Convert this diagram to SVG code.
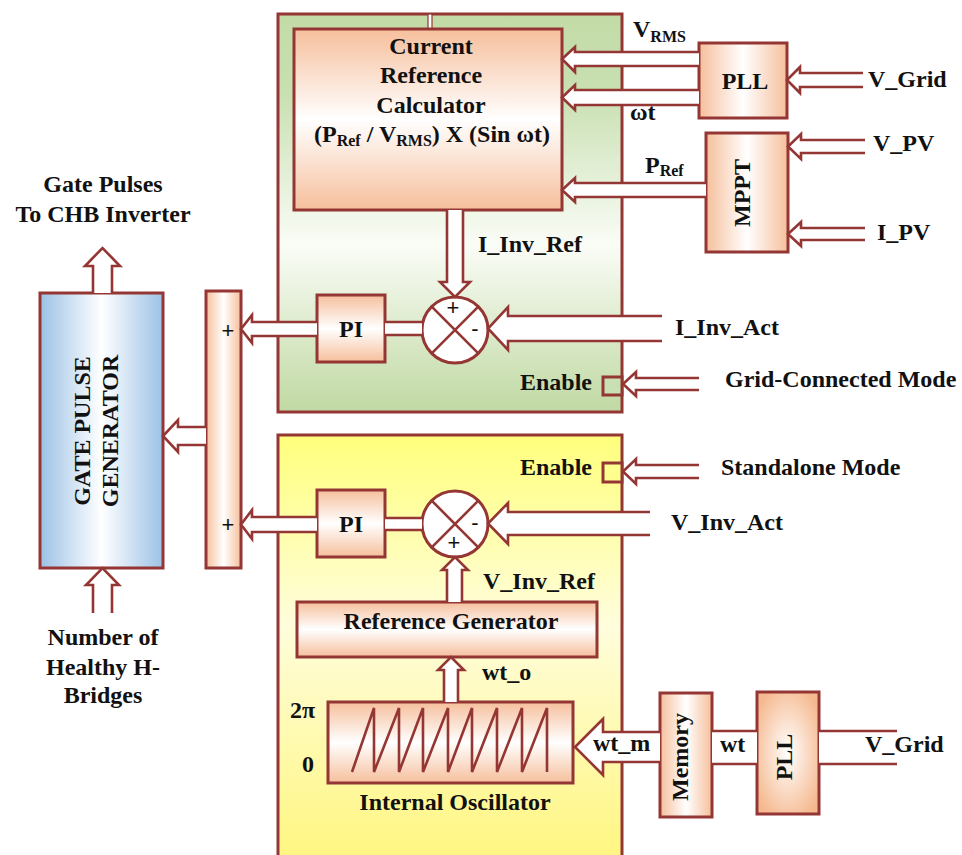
<svg xmlns="http://www.w3.org/2000/svg" width="962" height="855" viewBox="0 0 962 855">
<defs>
<linearGradient id="gGreen" x1="0" y1="0" x2="0" y2="1">
<stop offset="0" stop-color="#c2dba6"/><stop offset="0.2" stop-color="#c9e0b2"/><stop offset="0.58" stop-color="#fafcf6"/><stop offset="1" stop-color="#c0d9a3"/>
</linearGradient>
<linearGradient id="gYellow" x1="0" y1="0" x2="0" y2="1">
<stop offset="0" stop-color="#ffff7c"/><stop offset="0.45" stop-color="#fffddc"/><stop offset="1" stop-color="#fff680"/>
</linearGradient>
<linearGradient id="gPeachV" x1="0" y1="0" x2="0" y2="1">
<stop offset="0" stop-color="#f6bf9c"/><stop offset="0.5" stop-color="#ffffff"/><stop offset="1" stop-color="#f6bf9c"/>
</linearGradient>
<linearGradient id="gPeachH" x1="0" y1="0" x2="1" y2="0">
<stop offset="0" stop-color="#f6bf9c"/><stop offset="0.5" stop-color="#ffffff"/><stop offset="1" stop-color="#f6bf9c"/>
</linearGradient>
<linearGradient id="gBlue" x1="0" y1="0" x2="1" y2="0">
<stop offset="0" stop-color="#9cc2e6"/><stop offset="0.5" stop-color="#ffffff"/><stop offset="1" stop-color="#9cc2e6"/>
</linearGradient>
<radialGradient id="gPeachR" cx="0.5" cy="0.5" r="0.6">
<stop offset="0" stop-color="#ffffff"/><stop offset="1" stop-color="#f5b98f"/>
</radialGradient>
<style>
.box{stroke:#943634;stroke-width:3}
.ar{fill:#ffffff;stroke:#943634;stroke-width:2.6;stroke-linejoin:miter}
.ln{fill:none;stroke:#943634;stroke-width:2.6}
.t{font-family:"Liberation Serif","Times New Roman",serif;font-weight:bold;font-size:24px;fill:#111111}
.s{font-size:16px}
.sg{font-family:"Liberation Sans",Arial,sans-serif;font-size:22px;fill:#111111}
</style>
</defs>
<rect width="962" height="855" fill="#ffffff"/>

<g id="grid-connected-panel">
<rect class="box" x="278" y="14" width="344" height="398" fill="url(#gGreen)"/>
<rect x="428" y="14" width="4" height="15" fill="#ffffff" stroke="#943634" stroke-width="1.2"/>
<rect class="box" x="603" y="377" width="19" height="18" fill="#c9e0b4"/>
<text class="t" x="592" y="390" text-anchor="end">Enable</text>
</g>

<g id="standalone-panel">
<rect class="box" x="278" y="435" width="344" height="425" fill="url(#gYellow)"/>
<rect class="box" x="603" y="463" width="19" height="19" fill="#ffff90"/>
<text class="t" x="592" y="475" text-anchor="end">Enable</text>
</g>

<g id="current-reference-calculator">
<rect class="box" x="294" y="29" width="268" height="181" fill="url(#gPeachV)"/>
<text class="t" x="431" y="54" text-anchor="middle">Current</text>
<text class="t" x="431" y="83" text-anchor="middle">Reference</text>
<text class="t" x="431" y="113" text-anchor="middle">Calculator</text>
<text class="t" x="432" y="142" text-anchor="middle">(P<tspan class="s" dy="4">Ref</tspan><tspan dy="-4"> / V</tspan><tspan class="s" dy="4">RMS</tspan><tspan dy="-4">) X (Sin ωt)</tspan></text>
</g>

<g id="pll-top">
<rect class="box" x="699" y="43" width="88" height="75" fill="url(#gPeachH)"/>
<text class="t" x="745" y="89" text-anchor="middle">PLL</text>
</g>

<g id="mppt">
<rect class="box" x="706" y="133" width="82" height="119" fill="url(#gPeachH)"/>
<text class="t" transform="translate(750,193) rotate(-90)" text-anchor="middle">MPPT</text>
</g>

<g id="pi-top">
<rect class="box" x="317" y="295" width="68" height="67" fill="url(#gPeachV)"/>
<text class="t" x="351" y="337" text-anchor="middle">PI</text>
</g>

<g id="sum-top">
<circle class="box" cx="455" cy="330" r="33" fill="#ffffff"/>
<path class="ln" d="M431.7 306.7 L478.3 353.3 M478.3 306.7 L431.7 353.3"/>
<text class="sg" x="453" y="315" text-anchor="middle">+</text>
<text class="sg" x="475" y="336" text-anchor="middle">-</text>
</g>

<g id="summer-bar">
<rect class="box" x="206" y="291" width="35" height="277" fill="url(#gPeachH)"/>
<text class="sg" x="228" y="338" text-anchor="middle">+</text>
<text class="sg" x="228" y="532" text-anchor="middle">+</text>
</g>

<g id="gate-pulse-generator">
<rect class="box" x="40" y="293" width="123" height="275" fill="url(#gBlue)"/>
<text class="t" transform="translate(90,431) rotate(-90)" text-anchor="middle" font-size="25">GATE PULSE</text>
<text class="t" transform="translate(118,431) rotate(-90)" text-anchor="middle" font-size="25">GENERATOR</text>
</g>

<g id="pi-bottom">
<rect class="box" x="317" y="490" width="68" height="67" fill="url(#gPeachV)"/>
<text class="t" x="351" y="532" text-anchor="middle">PI</text>
</g>

<g id="sum-bottom">
<circle class="box" cx="455" cy="524" r="33" fill="#ffffff"/>
<path class="ln" d="M431.7 500.7 L478.3 547.3 M478.3 500.7 L431.7 547.3"/>
<text class="sg" x="475" y="530" text-anchor="middle">-</text>
<text class="sg" x="454" y="550" text-anchor="middle">+</text>
</g>

<g id="reference-generator">
<rect class="box" x="297" y="602" width="300" height="55" fill="url(#gPeachV)"/>
<text class="t" x="451" y="629" text-anchor="middle">Reference Generator</text>
</g>

<g id="internal-oscillator">
<rect class="box" x="328" y="702" width="245" height="81" fill="url(#gPeachV)"/>
<path class="ln" d="M352 772 L374 708 L374 772 L399 708 L399 772 L423 708 L423 772 L448 708 L448 772 L472 708 L472 772 L497 708 L497 772 L522 708 L522 772 L547 708 L547 772"/>
<text class="t" x="290" y="718">2π</text>
<text class="t" x="302" y="772">0</text>
<text class="t" x="455" y="810" text-anchor="middle">Internal Oscillator</text>
</g>

<g id="memory">
<rect class="box" x="660" y="693" width="52" height="124" fill="url(#gPeachH)"/>
<text class="t" transform="translate(688,757) rotate(-90)" text-anchor="middle">Memory</text>
</g>

<g id="pll-bottom">
<rect class="box" x="757" y="692" width="62" height="122" fill="url(#gPeachR)"/>
<text class="t" transform="translate(792,757) rotate(-90)" text-anchor="middle">PLL</text>
</g>

<g id="connectors">
<path class="ar" d="M699 52 H575 V47 L562 59 L575 72 V66 H699"/>
<path class="ar" d="M699 90 H575 V85 L562 97.5 L575 110 V105 H699"/>
<path class="ar" d="M706 183 H575 V178 L562 190 L575 202 V197 H706"/>
<path class="ar" d="M863 73 H800 V67 L787 80 L800 93 V87 H863"/>
<path class="ar" d="M865 140 H801 V134 L788 146.5 L801 159 V153 H865"/>
<path class="ar" d="M865 228 H801 V222 L788 234 L801 246 V240 H865"/>
<path class="ar" d="M447 210 V282 H440 L455 297 L470 282 H463 V210"/>
<path class="ar" d="M662 316 H508 V307 L488 328.5 L508 350 V341 H662"/>
<rect x="385" y="322" width="37" height="13" fill="#ffffff"/>
<path class="ln" d="M385 322 H423 M385 335 H423"/>
<path class="ar" d="M317 322 H252 V315 L241 329 L252 343 V336 H317"/>
<path class="ar" d="M206 427 H178 V420 L163 436 L178 452 V445 H206"/>
<path class="ar" d="M93 293 V266 H85 L102.5 248 L120 266 H112 V293"/>
<path class="ar" d="M93 613 V585 H86 L102.5 568 L119 585 H112 V613"/>
<path class="ar" d="M699 378 H636 V372 L623 384 L636 396 V390 H699"/>
<path class="ar" d="M699 465 H636 V459 L623 471.5 L636 484 V478 H699"/>
<path class="ar" d="M650 512 H508 V503 L488 523.5 L508 544 V535 H650"/>
<rect x="385" y="518" width="37" height="12" fill="#ffffff"/>
<path class="ln" d="M385 518 H423 M385 530 H423"/>
<path class="ar" d="M317 517 H252 V510 L241 524.5 L252 539 V532 H317"/>
<path class="ar" d="M447 602 V570 H442 L455 557 L468 570 H462 V602"/>
<path class="ar" d="M444 702 V670 H438 L451 657 L464 670 H458 V702"/>
<path class="ar" d="M660 732 H603 V719 L575 747 L603 775 V762 H660"/>
<rect x="712" y="731" width="45" height="33" fill="#ffffff"/>
<path class="ln" d="M712 731 H757 M712 764 H757"/>
<rect x="819" y="731" width="78" height="33" fill="#ffffff"/>
<path class="ln" d="M819 731 H897 M819 764 H897"/>
</g>

<g id="labels">
<text class="t" x="633" y="37" font-size="22">V<tspan class="s" dy="5">RMS</tspan></text>
<text class="t" x="630" y="120" font-size="22">ωt</text>
<text class="t" x="645" y="173" font-size="22">P<tspan class="s" dy="3">Ref</tspan></text>
<text class="t" x="868" y="87">V_Grid</text>
<text class="t" x="873" y="151">V_PV</text>
<text class="t" x="877" y="240">I_PV</text>
<text class="t" x="103" y="192" text-anchor="middle">Gate Pulses</text>
<text class="t" x="103" y="222" text-anchor="middle">To CHB Inverter</text>
<text class="t" x="478" y="252">I_Inv_Ref</text>
<text class="t" x="675" y="335">I_Inv_Act</text>
<text class="t" x="725" y="387">Grid-Connected Mode</text>
<text class="t" x="721" y="475">Standalone Mode</text>
<text class="t" x="671" y="530">V_Inv_Act</text>
<text class="t" x="483" y="589">V_Inv_Ref</text>
<text class="t" x="482" y="680">wt_o</text>
<text class="t" x="593" y="751">wt_m</text>
<text class="t" x="720" y="752">wt</text>
<text class="t" x="865" y="752">V_Grid</text>
<text class="t" x="103" y="645" text-anchor="middle">Number of</text>
<text class="t" x="103" y="675" text-anchor="middle">Healthy H-</text>
<text class="t" x="103" y="703" text-anchor="middle">Bridges</text>
</g>
</svg>
